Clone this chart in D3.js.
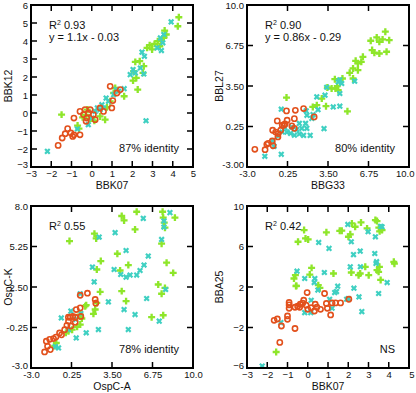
<!DOCTYPE html>
<html>
<head>
<meta charset="utf-8">
<script src="https://cdn.jsdelivr.net/npm/d3@7"></script>
<style>
  body { margin: 0; background: #fff; }
  text { font-family: "Liberation Sans", Arial, sans-serif; fill: #111; }
</style>
</head>
<body>
<svg id="chart" width="416" height="393"></svg>
<script>
// panel 1: BBK07 vs BBK12
const p1Green = [[-1.49,-0.09],[-0.63,-0.87],[-0.7,-0.7],[-0.45,-0.24],[-0.28,-0.1],[-0.22,0.19],[-0.08,-0.32],[0.13,-0.43],[0.41,-0.19],[0.66,-0.37],[0.75,0.32],[0.91,0.65],[1.08,1.11],[1.16,1.39],[1.6,0.93],[2.27,1.3],[2.04,1.8],[2.2,1.95],[2.07,2.32],[2.15,2.84],[2.37,2.88],[2.57,2.6],[2.53,2.23],[2.73,3.62],[2.86,3.77],[2.98,3.53],[3.1,3.84],[3.26,3.99],[3.36,3.71],[3.43,4.03],[3.56,4.17],[3.6,4.58],[3.68,4.36],[4.3,5.32],[4.25,4.82]];
const p1Cyan = [[-2.19,-2.13],[-0.71,-0.89],[-0.17,-0.65],[0,-0.28],[0.17,0.09],[0.28,0.28],[0.41,0.19],[0.5,0.46],[0.58,0.28],[0.71,0.83],[0.83,0.65],[1.08,1.02],[1.21,1.3],[1.32,1.21],[1.6,1.35],[2.68,-0.43],[1.9,2.13],[2.04,2.41],[2.15,2.23],[2.57,2.17],[2.4,2.5],[2.48,3.38],[2.6,3.15],[3.23,3.62],[3.44,3.47],[3.51,3.9],[3.56,4.36],[3.92,5.06],[3.39,4.17]];
const p1Red = [[-1.66,-1.8],[-1.46,-1.39],[-1.31,-1.15],[-1.19,-0.87],[-1.03,-1.11],[-0.94,-1.3],[-0.88,-1.21],[-0.58,-1.21],[-0.88,-0.28],[-0.58,0.09],[-0.33,0.19],[-0.41,-0.09],[-0.25,-0.28],[-0.17,0],[-0.08,0.19],[-0.28,-0.46],[0.08,-0.09],[0.41,0.28],[0.58,0.09],[0.91,1.48],[0.99,0.28],[1.04,0.69],[1.41,1.3],[1.24,1.11],[0.17,-0.37]];

// panel 2: BBG33 vs BBL27
const p2Green = [[8.1,7.86],[7.41,7.4],[7.62,7.05],[7.88,7.24],[8.41,7.18],[6.93,7.13],[7.04,6.38],[7.22,6.17],[7.62,6.11],[8.2,6.25],[6.3,5.84],[6.17,5.44],[5.9,5.31],[5.72,5.52],[5.51,4.91],[5.9,4.77],[5.24,4.56],[5.51,4.1],[4.66,4.1],[4.05,4.05],[4.24,3.49],[4.32,3.16],[3.79,3.3],[3.45,3.38],[3.0,2.49],[3.34,1.88],[2.6,1.96],[2.28,1.82],[5.06,1.47],[0.17,2.57],[4.1,3.3]];
const p2Cyan = [[-0.25,1.64],[-1.57,-2.14],[-0.25,-1.98],[-0.83,-1.34],[-0.95,-0.9],[-0.5,-0.5],[-0.17,-0.19],[0.05,0.15],[0.2,-0.2],[0.5,-0.3],[0.8,-0.45],[1.2,-0.35],[1.54,-0.46],[2.07,-0.46],[1.8,0.1],[1.7,0.5],[1.81,1.15],[1.75,1.5],[2.2,0.9],[2.3,1.2],[2.7,1.6],[3.18,0.08],[2.6,2.63],[3.26,2.76],[3.4,3.4],[4.32,3.83],[4.45,4.0],[4.6,3.7],[4.45,2.9],[3.92,1.82],[4.45,1.88],[5.64,3.89],[1.0,0.0],[0.6,0.2],[1.4,0.1],[1.2,0.5]];
const p2Red = [[-2.37,-1.58],[-1.55,-1.61],[-1.41,-1.18],[-1.3,-1.1],[-0.97,-0.91],[-0.9,-1.3],[-0.52,-0.59],[-0.49,-0.32],[-0.7,-0.2],[-0.94,-0.05],[-0.57,0.7],[-0.04,0.35],[0.05,0.45],[0.22,0.75],[0.17,1.5],[0.88,1.55],[0.8,0.88],[1.54,1.69],[2.39,1.02],[-0.17,0.35],[-0.3,-0.05],[0.6,0.3],[0.8,0.1]];

// panel 3: OspC-A vs OspC-K
const p3Green = [[0.09,5.62],[2.09,6.12],[2.23,5.8],[4.28,7.32],[4.47,7.02],[5.48,7.61],[5.35,6.41],[7.56,7.61],[7.61,7.21],[7.69,6.87],[7.75,6.53],[7.48,5.44],[8.55,7.21],[3.93,4.76],[4.81,3.99],[2.6,4.26],[2.28,3.69],[4.15,3.62],[7.88,4.15],[8.41,3.46],[7.21,2.67],[7.75,2.44],[7.48,2.04],[2.55,2.17],[4.28,2.22],[4.63,1.54],[6.68,0.45],[7.61,0.58],[1.43,1.27],[2.28,1.42],[2.15,0.97],[2.01,0.68],[0.95,0.63],[1.08,0.36],[0.95,-0.05],[0.7,-0.2],[0.3,-0.4],[0.01,-0.5],[-0.2,-0.6],[-0.97,-1.3],[-1.1,-1.5],[1.35,1.2]];
const p3Cyan = [[8.15,7.55],[7.67,6.98],[7.67,6.57],[7.48,5.73],[6.01,7.16],[3.75,6.19],[2.47,5.89],[4.63,4.98],[6.41,4.6],[6.07,3.99],[5.75,3.62],[5.48,3.31],[4.95,3.31],[4.63,3.17],[4.2,3.35],[3.67,3.69],[1.93,3.85],[2.07,2.85],[7.8,2.33],[6.28,1.72],[3.21,1.49],[4.47,0.97],[5.35,0.63],[7.29,0.18],[4.81,-0.39],[2.41,-0.39],[1.43,-0.61],[0.63,-0.96],[-0.57,0.4],[0.95,2.04],[0.2,0.86],[0.0,-0.4],[-0.79,-1.64],[-1.05,-1.55],[1.0,0.7],[0.6,0.3]];
const p3Red = [[-1.91,-1.91],[-1.67,-1.52],[-1.45,-1.75],[-1.77,-1.18],[-1.5,-1.05],[-1.19,-1.0],[-1.0,-0.9],[-0.71,-0.62],[-0.55,-0.75],[-0.3,-0.4],[-0.12,-0.1],[0.01,0.18],[0.15,0.45],[0.35,0.5],[0.55,0.45],[0.2,-0.15],[0.55,0.1],[0.63,0.97],[0.95,1.08],[1.0,0.5],[0.95,1.94],[1.53,2.08],[2.15,1.65],[2.2,1.4],[0.0,0.45]];

// panel 4: BBK07 vs BBA25
const p4Green = [[-0.18,7.62],[-0.48,6.47],[-0.11,6.8],[0.02,6.7],[0.92,7.4],[1.58,7.55],[1.68,7.56],[2.18,8.28],[2.34,7.95],[2.63,8.38],[2.93,7.79],[3.34,8.61],[3.42,8.51],[3.51,7.86],[3.67,7.62],[3.55,7.5],[2.01,6.96],[2.1,7.2],[4.25,4.49],[4.28,4.3],[-0.68,2.84],[-0.61,3.17],[-0.56,2.11],[0.19,3.89],[0.1,3.23],[0.6,1.91],[1.27,3.33],[2.15,3.43],[2.51,3.17],[2.59,3.33],[2.84,3.99],[3.01,3.17],[3.42,3.66],[3.54,3.99],[3.6,2.7],[3.5,3.5],[-1.56,-4.42],[0.52,2.18],[-0.58,2.1]];
const p4Cyan = [[1.98,8.18],[2.98,7.46],[3.34,6.96],[3.67,7.95],[3.6,8.0],[2.15,6.47],[0.54,6.4],[1.05,5.81],[2.59,5.54],[2.26,5.2],[2.1,3.99],[3.31,5.31],[3.37,4.32],[-0.53,3.56],[-0.15,2.84],[0.35,2.84],[0.32,2.44],[0.82,3.43],[1.48,2.08],[1.42,1.55],[1.33,1.45],[2.01,0.86],[1.92,0.79],[2.53,1.02],[2.28,1.88],[3.92,2.44],[3.5,1.36],[2.67,-0.43],[-0.15,-0.53],[0.15,-0.53],[1.2,-0.1],[1.08,0.79],[0.5,1.7],[0.17,0.69],[-1.33,-1.52],[-2.25,-5.8],[2.6,4.0],[3.4,4.5]];
const p4Red = [[-1.66,-1.29],[-1.5,-1.16],[-1.3,-1.85],[-1.0,-0.86],[-1.0,-1.19],[-0.92,0.47],[-0.92,0.23],[-0.92,-0.1],[-0.63,-2.1],[-1.38,-3.47],[-0.63,0.0],[-0.5,0.1],[-0.37,0.3],[-0.2,0.69],[-0.08,0.2],[0.0,-0.2],[0.17,-0.05],[0.33,-0.37],[0.37,0.3],[0.63,-0.2],[0.83,1.36],[0.92,0.37],[0.97,-0.1],[1.13,-0.76],[1.2,0.43],[1.37,0.43],[1.62,0.43],[2.03,0.79],[-0.03,1.45],[-0.4,0.0],[-0.25,0.4],[0.45,0.0]];

// axis ticks and labels
const intTicksX = [-3,-2,-1,0,1,2,3,4,5];
const p1TicksY = [-3,-2,-1,0,1,2,3,4,5,6];
const quarterTicks = [-3,0.25,3.5,6.75,10];
const quarterLabelsX = ['-3.0','0.25','3.50','6.75','10.0'];
const p2LabelsY = ['-3.00','0.25','3.50','6.75','10.0'];
const p3TicksY = [-3,-0.25,2.5,5.25,8];
const p3LabelsY = ['-3.0','-0.25','2.50','5.25','8.0'];
const p4TicksY = [-6,-2,2,6,10];

const panels = [
  {x0: 31, y0: 5, xd: [-3,5], yd: [-3,6], xt: intTicksX, yt: p1TicksY, xl: null, yl: null,
   xTitle: 'BBK07', yTitle: 'BBK12', yTitleX: -19, r2: '0.93', eq: 'y = 1.1x - 0.03', corner: '87% identity',
   green: p1Green, cyan: p1Cyan, red: p1Red},
  {x0: 247, y0: 5, xd: [-3,10], yd: [-3,10], xt: quarterTicks, yt: quarterTicks, xl: quarterLabelsX, yl: p2LabelsY,
   xTitle: 'BBG33', yTitle: 'BBL27', yTitleX: -24, r2: '0.90', eq: 'y = 0.86x - 0.29', corner: '80% identity',
   green: p2Green, cyan: p2Cyan, red: p2Red},
  {x0: 31, y0: 206, xd: [-3,10], yd: [-3,8], xt: quarterTicks, yt: p3TicksY, xl: quarterLabelsX, yl: p3LabelsY,
   xTitle: 'OspC-A', yTitle: 'OspC-K', yTitleX: -19, r2: '0.55', eq: null, corner: '78% identity',
   green: p3Green, cyan: p3Cyan, red: p3Red},
  {x0: 247, y0: 206, xd: [-3,5], yd: [-6,10], xt: intTicksX, yt: p4TicksY, xl: null, yl: null,
   xTitle: 'BBK07', yTitle: 'BBA25', yTitleX: -24, r2: '0.42', eq: null, corner: 'NS',
   green: p4Green, cyan: p4Cyan, red: p4Red}
];

const W = 162, H = 162;
const svg = d3.select('#chart');
const plus = d3.symbol().type(d3.symbolCross).size(27);
const cross = d3.symbol().type(d3.symbolCross).size(24);

panels.forEach(p => {
  const g = svg.append('g').attr('transform', `translate(${p.x0},${p.y0})`);
  const x = d3.scaleLinear().domain(p.xd).range([0, W]);
  const y = d3.scaleLinear().domain(p.yd).range([H, 0]);
  const inner = v => v > p.xd[0] && v < p.xd[1];
  const innerY = v => v > p.yd[0] && v < p.yd[1];

  const fmt = (labels, ticks) => labels ? (d => labels[ticks.indexOf(d)]) : d3.format('d');

  const xAx = g.append('g').attr('transform', `translate(0,${H})`)
    .call(d3.axisBottom(x).tickValues(p.xt).tickFormat(fmt(p.xl, p.xt)).tickSizeInner(0).tickSizeOuter(0).tickPadding(3))
    .call(a => a.select('.domain').remove());
  const yAx = g.append('g')
    .call(d3.axisLeft(y).tickValues(p.yt).tickFormat(fmt(p.yl, p.yt)).tickSizeInner(0).tickSizeOuter(0).tickPadding(3))
    .call(a => a.select('.domain').remove());
  g.selectAll('.tick text').attr('font-size', 9.5).attr('fill', '#222');
  // lowest y label sits a little higher so it clears the first x label
  yAx.select('.tick:first-of-type text').attr('dy', '0.05em');
  // keep the last x label inside the page on the right-hand panels
  if (p.x0 + W + 14 > 416) {
    xAx.selectAll('.tick:last-of-type text').attr('text-anchor', 'end').attr('dx', 5);
  }

  // inward ticks on all four sides
  const tx = p.xt.filter(inner), ty = p.yt.filter(innerY);
  const tl = 6;
  const tg = g.append('g').attr('stroke', '#000').attr('stroke-width', 1.5);
  tg.selectAll('.tb').data(tx).join('line').attr('class', 'tb').attr('x1', d => x(d)).attr('x2', d => x(d)).attr('y1', H).attr('y2', H - tl);
  tg.selectAll('.tt').data(tx).join('line').attr('class', 'tt').attr('x1', d => x(d)).attr('x2', d => x(d)).attr('y1', 0).attr('y2', tl);
  tg.selectAll('.tlft').data(ty).join('line').attr('class', 'tlft').attr('y1', d => y(d)).attr('y2', d => y(d)).attr('x1', 0).attr('x2', tl);
  tg.selectAll('.trgt').data(ty).join('line').attr('class', 'trgt').attr('y1', d => y(d)).attr('y2', d => y(d)).attr('x1', W).attr('x2', W - tl);

  // points
  g.selectAll('.gr').data(p.green).join('path').attr('class', 'gr')
    .attr('d', plus).attr('fill', '#8ee62a')
    .attr('transform', d => `translate(${x(d[0])},${y(d[1])})`);
  g.selectAll('.cy').data(p.cyan).join('path').attr('class', 'cy')
    .attr('d', cross).attr('fill', '#3fd0c2')
    .attr('transform', d => `translate(${x(d[0])},${y(d[1])}) rotate(45)`);
  g.selectAll('.rd').data(p.red).join('circle').attr('class', 'rd')
    .attr('cx', d => x(d[0])).attr('cy', d => y(d[1])).attr('r', 2.6)
    .attr('fill', 'none').attr('stroke', '#e2501c').attr('stroke-width', 1.6);

  // frame
  g.append('rect').attr('width', W).attr('height', H)
    .attr('fill', 'none').attr('stroke', '#000').attr('stroke-width', 2);

  // axis titles
  g.append('text').attr('x', W / 2).attr('y', H + 22).attr('text-anchor', 'middle')
    .attr('font-size', 10.5).text(p.xTitle);
  g.append('text').attr('transform', `translate(${p.yTitleX},${H / 2}) rotate(-90)`)
    .attr('text-anchor', 'middle').attr('font-size', 10.5).text(p.yTitle);

  // annotations
  const r = g.append('text').attr('x', 18).attr('y', 24).attr('font-size', 11);
  r.append('tspan').text('R');
  r.append('tspan').attr('font-size', 7).attr('dy', -4).text('2');
  r.append('tspan').attr('dy', 4).text(' ' + p.r2);
  if (p.eq) g.append('text').attr('x', 18).attr('y', 36).attr('font-size', 11).text(p.eq);
  g.append('text').attr('x', W - 14).attr('y', H - 15).attr('text-anchor', 'end')
    .attr('font-size', 11).text(p.corner);
});
</script>
</body>
</html>
